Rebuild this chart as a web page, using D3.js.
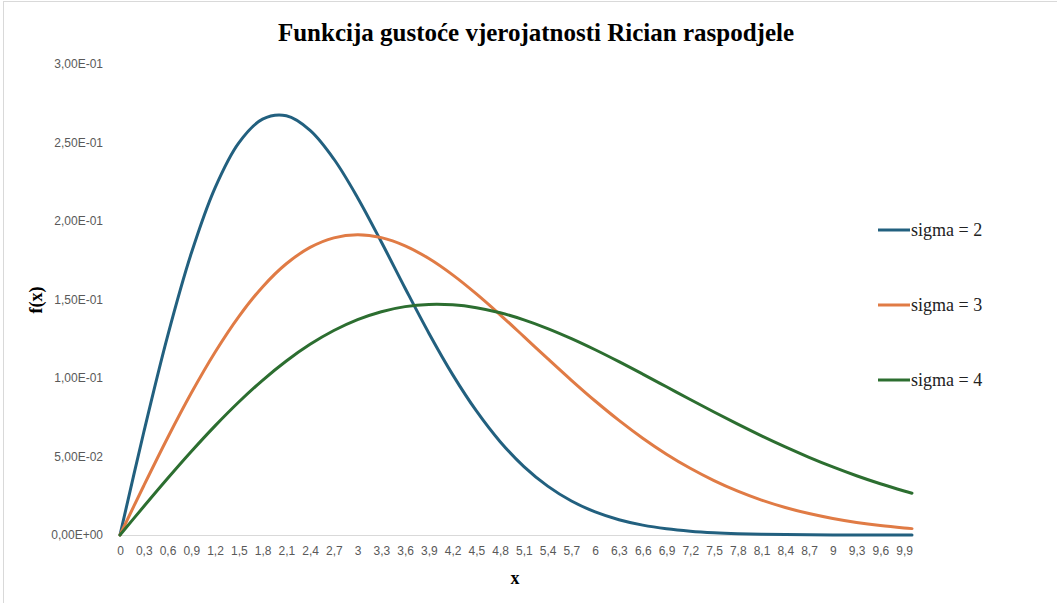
<!DOCTYPE html>
<html><head><meta charset="utf-8">
<script src="https://cdn.jsdelivr.net/npm/d3@7"></script>
<style>body{margin:0;background:#fff}svg{display:block}</style>
</head><body><svg id="c" width="1057" height="603"></svg>
<script>
const xValues = [0,0.3,0.6,0.9,1.2,1.5,1.8,2.1,2.4,2.7,3,3.3,3.6,3.9,4.2,4.5,4.8,5.1,5.4,5.7,6,6.3,6.6,6.9,7.2,7.5,7.8,8.1,8.4,8.7,9,9.3,9.6,9.9,10];
const sigma2 = [0,0.06545,0.12655,0.17944,0.22114,0.24980,0.26487,0.26698,0.25773,0.23949,0.21488,0.18663,0.15718,0.12854,0.10216,0.07900,0.05944,0.04359,0.03113,0.02167,0.01471,0.009735,0.006288,0.003963,0.002437,0.001463,0.000857,0.000490,0.000274,0.000149,0.0000795,0.0000414,0.000021,0.0000105,0.0000082];
const sigma3 = [0,0.031375,0.061816,0.090434,0.116432,0.139135,0.158027,0.172761,0.183176,0.189282,0.191252,0.189407,0.184179,0.176084,0.165680,0.153553,0.140275,0.126368,0.112324,0.098536,0.085348,0.073005,0.061686,0.051495,0.042477,0.034636,0.027913,0.022239,0.017518,0.013644,0.010509,0.008005,0.006030,0.004493,0.004063];
const sigma4 = [0,0.018122,0.035940,0.053156,0.069494,0.084696,0.098540,0.110835,0.121436,0.130236,0.137178,0.142240,0.145453,0.146870,0.146607,0.144774,0.141532,0.137050,0.131514,0.125092,0.117999,0.110407,0.102487,0.094410,0.086315,0.078335,0.070587,0.063150,0.056100,0.049498,0.043376,0.037753,0.032642,0.028040,0.026616];
const seriesNames = ["sigma = 2","sigma = 3","sigma = 4"];
const seriesColors = ["#22607f","#e07b45","#2c6e30"];
const xTickValues = [0,0.3,0.6,0.9,1.2,1.5,1.8,2.1,2.4,2.7,3,3.3,3.6,3.9,4.2,4.5,4.8,5.1,5.4,5.7,6,6.3,6.6,6.9,7.2,7.5,7.8,8.1,8.4,8.7,9,9.3,9.6,9.9];
const xTickLabels = ["0","0,3","0,6","0,9","1,2","1,5","1,8","2,1","2,4","2,7","3","3,3","3,6","3,9","4,2","4,5","4,8","5,1","5,4","5,7","6","6,3","6,6","6,9","7,2","7,5","7,8","8,1","8,4","8,7","9","9,3","9,6","9,9"];
const yTickValues = [0,0.05,0.1,0.15,0.2,0.25,0.3];
const yTickLabels = ["0,00E+00","5,00E-02","1,00E-01","1,50E-01","2,00E-01","2,50E-01","3,00E-01"];

const svg = d3.select("#c");
// outer chart border (top/left visible)
svg.append("rect").attr("x",3.5).attr("y",1.5).attr("width",1100).attr("height",700)
  .attr("fill","none").attr("stroke","#d9d9d9").attr("stroke-width",1);

const x = d3.scaleLinear().domain([0,10]).range([120,912]);
const y = d3.scaleLinear().domain([0,0.3]).range([535,64]);

svg.append("text").attr("x",536).attr("y",41).attr("text-anchor","middle")
  .attr("font-family","'Liberation Serif','Times New Roman',serif").attr("font-weight","bold")
  .attr("font-size",25).attr("fill","#000").text("Funkcija gustoće vjerojatnosti Rician raspodjele");

// y axis
const yAxis = svg.append("g").attr("transform","translate(103,0)")
  .call(d3.axisLeft(y).tickValues(yTickValues).tickSize(0).tickPadding(0)
    .tickFormat((d,i)=>yTickLabels[i]));
yAxis.select(".domain").remove();
yAxis.selectAll("text").attr("font-family","'Liberation Sans',Arial,sans-serif")
  .attr("font-size",12).attr("fill","#595959");

// x axis
const xAxis = svg.append("g").attr("transform","translate(0,535)")
  .call(d3.axisBottom(x).tickValues(xTickValues).tickSize(0).tickPadding(11)
    .tickFormat((d,i)=>xTickLabels[i]));
xAxis.select(".domain").attr("stroke","#d9d9d9").attr("stroke-width",1.2);
xAxis.selectAll("text").attr("font-family","'Liberation Sans',Arial,sans-serif")
  .attr("font-size",12).attr("fill","#595959");

// axis titles
svg.append("text").attr("x",515).attr("y",584).attr("text-anchor","middle")
  .attr("font-family","'Liberation Serif','Times New Roman',serif").attr("font-weight","bold")
  .attr("font-size",18).attr("fill","#000").text("x");
svg.append("text").attr("transform","translate(42,300) rotate(-90)").attr("text-anchor","middle")
  .attr("font-family","'Liberation Serif','Times New Roman',serif").attr("font-weight","bold")
  .attr("font-size",18).attr("fill","#000").text("f(x)");

const series = [sigma2, sigma3, sigma4];
const line = d3.line().x((d,i)=>x(xValues[i])).y(d=>y(d)).curve(d3.curveCatmullRom.alpha(0.5));
series.forEach((s,k)=>{
  svg.append("path").datum(s).attr("d",line).attr("fill","none")
    .attr("stroke",seriesColors[k]).attr("stroke-width",3).attr("stroke-linecap","round");
});

// legend
const legY = [230,305,380];
seriesNames.forEach((n,k)=>{
  svg.append("line").attr("x1",878).attr("x2",910).attr("y1",legY[k]).attr("y2",legY[k])
    .attr("stroke",seriesColors[k]).attr("stroke-width",3);
  svg.append("text").attr("x",911).attr("y",legY[k]+5.5)
    .attr("font-family","'Liberation Serif','Times New Roman',serif")
    .attr("font-size",18).attr("fill","#222").text(n);
});
</script></body></html>
